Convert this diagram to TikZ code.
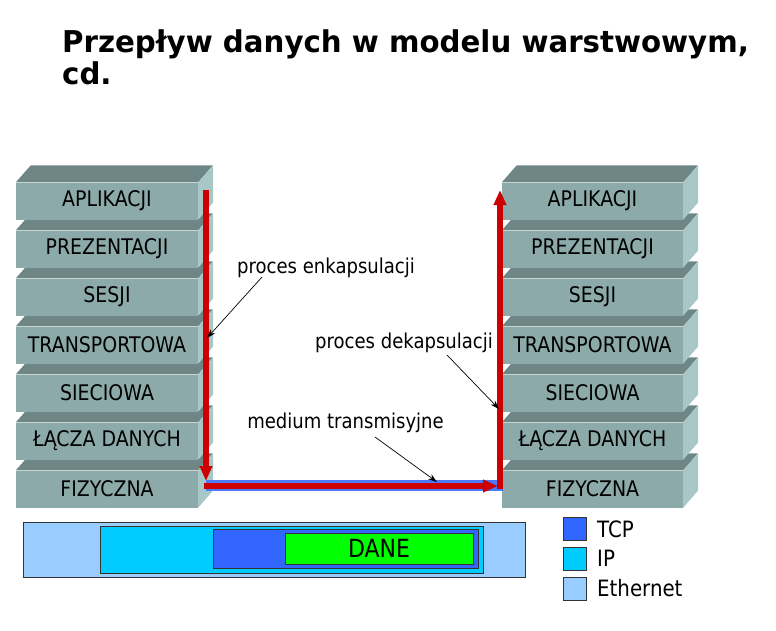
\documentclass[tikz,border=0pt]{standalone}
\usepackage{fontspec}
\setmainfont{DejaVu Sans}
\newfontfamily\lab[FakeStretch=0.88]{DejaVu Sans}
\newfontfamily\ttl[FakeStretch=0.975]{DejaVu Sans}
\usetikzlibrary{arrows.meta}
\definecolor{frontc}{HTML}{8DAAAA}
\definecolor{topc}{HTML}{6E8686}
\definecolor{sidec}{HTML}{A8C8C8}
\definecolor{redc}{HTML}{CC0000}
\definecolor{bandc}{HTML}{4D79FF}
\definecolor{ethc}{HTML}{99CCFF}
\definecolor{ipc}{HTML}{00CCFF}
\definecolor{tcpc}{HTML}{3366FF}
\definecolor{danec}{HTML}{00FF00}
\definecolor{edgec}{HTML}{333333}
\tikzset{
  layer/.style={fill=frontc, minimum height=37pt, inner sep=0pt, text=black,
    font=\lab\fontsize{21.5}{24}\selectfont},
  ann/.style={inner sep=0pt, font=\lab\fontsize{20.5}{24}\selectfont},
  pointer/.style={draw=black, line width=0.7pt, -{Stealth[length=9pt,width=6pt]}},
  redarrow/.style={draw=redc, line width=5.5pt, -{Triangle[width=12pt,length=15pt]}},
  pkt/.style={draw=edgec, line width=0.9pt, inner sep=0pt},
  legsq/.style={draw=edgec, line width=0.9pt, minimum width=23pt, minimum height=23pt, inner sep=0pt},
  legtxt/.style={anchor=west, inner sep=0pt, font=\lab\fontsize{22.5}{26}\selectfont},
  ttlstyle/.style={anchor=base west, inner sep=0pt, font=\ttl\bfseries\fontsize{30}{34}\selectfont},
}
\begin{document}
\begin{tikzpicture}[x=1pt,y=-1pt]
\useasboundingbox[fill=white] (0,0) rectangle (776,630);
% title
\node[ttlstyle] (title1) at (62,52) {Przepływ danych w modelu warstwowym,};
\node[ttlstyle] (title2) at (62,84) {cd.};
% stacks
\foreach \i/\t in {6/FIZYCZNA,5/ŁĄCZA DANYCH,4/SIECIOWA,3/TRANSPORTOWA,2/SESJI,1/PREZENTACJI,0/APLIKACJI}{
  \node[layer, minimum width=182pt] (L\i) at (107,{201+48*\i}) {\t};
  \fill[topc] (L\i.north west) -- ++(15,-17) -- ++(182,0) -- (L\i.north east) -- cycle;
  \fill[sidec] (L\i.north east) -- ++(15,-17) -- ++(0,37) -- (L\i.south east) -- cycle;
  \node[layer, minimum width=181pt] (R\i) at (592.5,{201+48*\i}) {\t};
  \fill[topc] (R\i.north west) -- ++(15,-17) -- ++(181,0) -- (R\i.north east) -- cycle;
  \fill[sidec] (R\i.north east) -- ++(15,-17) -- ++(0,37) -- (R\i.south east) -- cycle;
}
% medium band and red flow
\fill[bandc] (206,480) rectangle (503,491);
\coordinate (downS) at (206,190);
\coordinate (downE) at (206,481);
\coordinate (medS) at (203.5,486);
\coordinate (medE) at (498,486);
\coordinate (upS) at (500,489);
\coordinate (upE) at (500,190);
\draw[redarrow] (downS) -- (downE);
\draw[redarrow] (medS) -- (medE);
\draw[redarrow] (upS) -- (upE);
% annotations
\node[ann] (enk) at (326,268) {proces enkapsulacji};
\node[ann] (dek) at (404,343) {proces dekapsulacji};
\node[ann] (med) at (345.5,423) {medium transmisyjne};
\coordinate (enkS) at (262,277);
\coordinate (enkT) at (207,338);
\coordinate (dekS) at (447,355);
\coordinate (dekT) at (499,409);
\coordinate (medAS) at (375,437);
\coordinate (medAT) at (437,482);
\draw[pointer] (enkS) -- (enkT);
\draw[pointer] (dekS) -- (dekT);
\draw[pointer] (medAS) -- (medAT);
% packet
\node[pkt, fill=ethc, minimum width=502pt, minimum height=55pt] (eth) at (274,549.5) {};
\node[pkt, fill=ipc, minimum width=383pt, minimum height=47pt] (ip) at (291.5,549.5) {};
\node[pkt, fill=tcpc, minimum width=265pt, minimum height=39pt] (tcp) at (345.5,548.5) {};
\node[pkt, fill=danec, minimum width=188pt, minimum height=31pt, font=\lab\fontsize{25}{28}\selectfont] (dane) at (379,548.5) {DANE};
% legend
\node[legsq, fill=tcpc] (sqT) at (574.5,528.5) {};
\node[legsq, fill=ipc] (sqI) at (574.5,558.5) {};
\node[legsq, fill=ethc] (sqE) at (574.5,588.5) {};
\node[legtxt] (tT) at (597,529) {TCP};
\node[legtxt] (tI) at (597,558) {IP};
\node[legtxt] (tE) at (597,588) {Ethernet};
\end{tikzpicture}
\end{document}
